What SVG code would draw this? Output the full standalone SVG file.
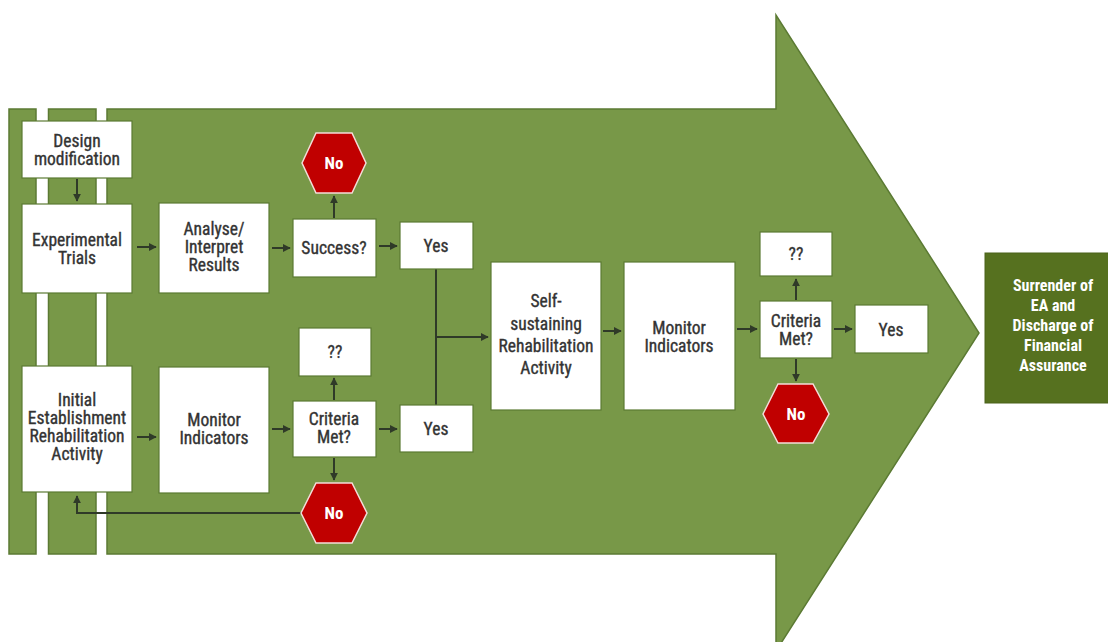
<svg xmlns="http://www.w3.org/2000/svg" width="1108" height="642" viewBox="0 0 1108 642">
<style>
.bg{fill:#ffffff}
.arrow{fill:#789848;stroke:#5b7a33;stroke-width:1.5}
.box{fill:#ffffff;stroke:#5b7a33;stroke-width:1.2}
.hex{fill:#c00000;stroke:#f3dcd8;stroke-width:1.5}
.t{font-family:"Liberation Sans Narrow","Roboto Condensed","DejaVu Sans Condensed",sans-serif;font-size:17.5px;fill:#333333;stroke:#333333;stroke-width:0.35;text-anchor:middle}
.tn{font-family:"Liberation Sans Narrow","Roboto Condensed","DejaVu Sans Condensed",sans-serif;font-size:17px;fill:#ffffff;text-anchor:middle;font-weight:bold}
.ts{font-family:"Liberation Sans Narrow","Roboto Condensed","DejaVu Sans Condensed",sans-serif;font-size:16px;fill:#ffffff;text-anchor:middle;font-weight:bold}
.sur{fill:#56711f;stroke:#4a621b;stroke-width:1}
.ln{fill:none;stroke:#2f3a28;stroke-width:2}
</style>
<defs>
<marker id="ah" viewBox="0 0 10 10" refX="9" refY="5" markerWidth="4" markerHeight="4" orient="auto" markerUnits="strokeWidth">
<path d="M0,0 L10,5 L0,10 z" fill="#2f3a28"/>
</marker>
</defs>
<rect class="bg" x="0" y="0" width="1108" height="642"/>
<g id="big-arrow">
<rect class="arrow" x="9" y="109" width="27" height="445"/>
<rect class="arrow" x="48.5" y="109" width="47.5" height="445"/>
<polygon class="arrow" points="107,109 776,109 776,15 979,333 776,651 776,554 107,554"/>
</g>
<g id="connectors">
<line class="ln" x1="77" y1="179" x2="77" y2="201" marker-end="url(#ah)"/>
<line class="ln" x1="137" y1="247" x2="156" y2="247" marker-end="url(#ah)"/>
<line class="ln" x1="272" y1="248" x2="290" y2="248" marker-end="url(#ah)"/>
<line class="ln" x1="379" y1="246" x2="397" y2="246" marker-end="url(#ah)"/>
<line class="ln" x1="334" y1="218" x2="334" y2="196" marker-end="url(#ah)"/>
<line class="ln" x1="137" y1="437" x2="156" y2="437" marker-end="url(#ah)"/>
<line class="ln" x1="272" y1="429" x2="290" y2="429" marker-end="url(#ah)"/>
<line class="ln" x1="379" y1="429" x2="397" y2="429" marker-end="url(#ah)"/>
<line class="ln" x1="334" y1="400" x2="334" y2="378" marker-end="url(#ah)"/>
<line class="ln" x1="334" y1="458" x2="334" y2="480" marker-end="url(#ah)"/>
<polyline class="ln" points="301,513 77,513 77,496" marker-end="url(#ah)"/>
<line class="ln" x1="436" y1="269" x2="436" y2="405"/>
<line class="ln" x1="436" y1="337" x2="488" y2="337" marker-end="url(#ah)"/>
<line class="ln" x1="603" y1="331" x2="621" y2="331" marker-end="url(#ah)"/>
<line class="ln" x1="737" y1="329" x2="757" y2="329" marker-end="url(#ah)"/>
<line class="ln" x1="796" y1="300" x2="796" y2="279" marker-end="url(#ah)"/>
<line class="ln" x1="796" y1="359" x2="796" y2="381" marker-end="url(#ah)"/>
<line class="ln" x1="834" y1="329" x2="852" y2="329" marker-end="url(#ah)"/>
</g>
<g id="design-modification">
<rect class="box" x="22" y="121" width="110" height="57"/>
<text class="t" x="77" y="147">Design</text>
<text class="t" x="77" y="165">modification</text>
</g>
<g id="experimental-trials">
<rect class="box" x="22" y="204" width="110" height="89"/>
<text class="t" x="77" y="246">Experimental</text>
<text class="t" x="77" y="264">Trials</text>
</g>
<g id="initial-establishment">
<rect class="box" x="22" y="366" width="110" height="126"/>
<text class="t" x="77" y="406">Initial</text>
<text class="t" x="77" y="424">Establishment</text>
<text class="t" x="77" y="442">Rehabilitation</text>
<text class="t" x="77" y="460">Activity</text>
</g>
<g id="analyse-results">
<rect class="box" x="159" y="203" width="110" height="90"/>
<text class="t" x="214" y="235">Analyse/</text>
<text class="t" x="214" y="253">Interpret</text>
<text class="t" x="214" y="271">Results</text>
</g>
<g id="success">
<rect class="box" x="293" y="219" width="83" height="58"/>
<text class="t" x="334" y="254">Success?</text>
</g>
<g id="no-top">
<polygon class="hex" points="302,163 316,133 352,133 366,163 352,193 316,193"/>
<text class="tn" x="334" y="169">No</text>
</g>
<g id="yes-top">
<rect class="box" x="400" y="222" width="73" height="47"/>
<text class="t" x="436" y="252">Yes</text>
</g>
<g id="monitor-left">
<rect class="box" x="159" y="367" width="110" height="126"/>
<text class="t" x="214" y="426">Monitor</text>
<text class="t" x="214" y="444">Indicators</text>
</g>
<g id="qq-left">
<rect class="box" x="299" y="328" width="72" height="48"/>
<text class="t" x="335" y="358">??</text>
</g>
<g id="criteria-left">
<rect class="box" x="293" y="401" width="83" height="56"/>
<text class="t" x="334" y="425">Criteria</text>
<text class="t" x="334" y="443">Met?</text>
</g>
<g id="yes-bottom">
<rect class="box" x="400" y="405" width="73" height="47"/>
<text class="t" x="436" y="435">Yes</text>
</g>
<g id="no-bottom">
<polygon class="hex" points="301,513 316,483 352,483 367,513 352,543 316,543"/>
<text class="tn" x="334" y="519">No</text>
</g>
<g id="self-sustaining">
<rect class="box" x="491" y="262" width="110" height="148"/>
<text class="t" x="546" y="307">Self-</text>
<text class="t" x="546" y="330">sustaining</text>
<text class="t" x="546" y="352">Rehabilitation</text>
<text class="t" x="546" y="374">Activity</text>
</g>
<g id="monitor-right">
<rect class="box" x="624" y="262" width="111" height="148"/>
<text class="t" x="679" y="334">Monitor</text>
<text class="t" x="679" y="352">Indicators</text>
</g>
<g id="qq-right">
<rect class="box" x="760" y="232" width="72" height="44"/>
<text class="t" x="796" y="260">??</text>
</g>
<g id="criteria-right">
<rect class="box" x="760" y="301" width="72" height="57"/>
<text class="t" x="796" y="327">Criteria</text>
<text class="t" x="796" y="345">Met?</text>
</g>
<g id="yes-right">
<rect class="box" x="855" y="305" width="73" height="48"/>
<text class="t" x="891" y="336">Yes</text>
</g>
<g id="no-right">
<polygon class="hex" points="763,414 778,384 813,384 829,414 813,443 778,443"/>
<text class="tn" x="796" y="420">No</text>
</g>
<g id="surrender">
<rect class="sur" x="985" y="253" width="125" height="150"/>
<text class="ts" x="1053" y="291">Surrender of</text>
<text class="ts" x="1053" y="311">EA and</text>
<text class="ts" x="1053" y="331">Discharge of</text>
<text class="ts" x="1053" y="351">Financial</text>
<text class="ts" x="1053" y="371">Assurance</text>
</g>
</svg>
